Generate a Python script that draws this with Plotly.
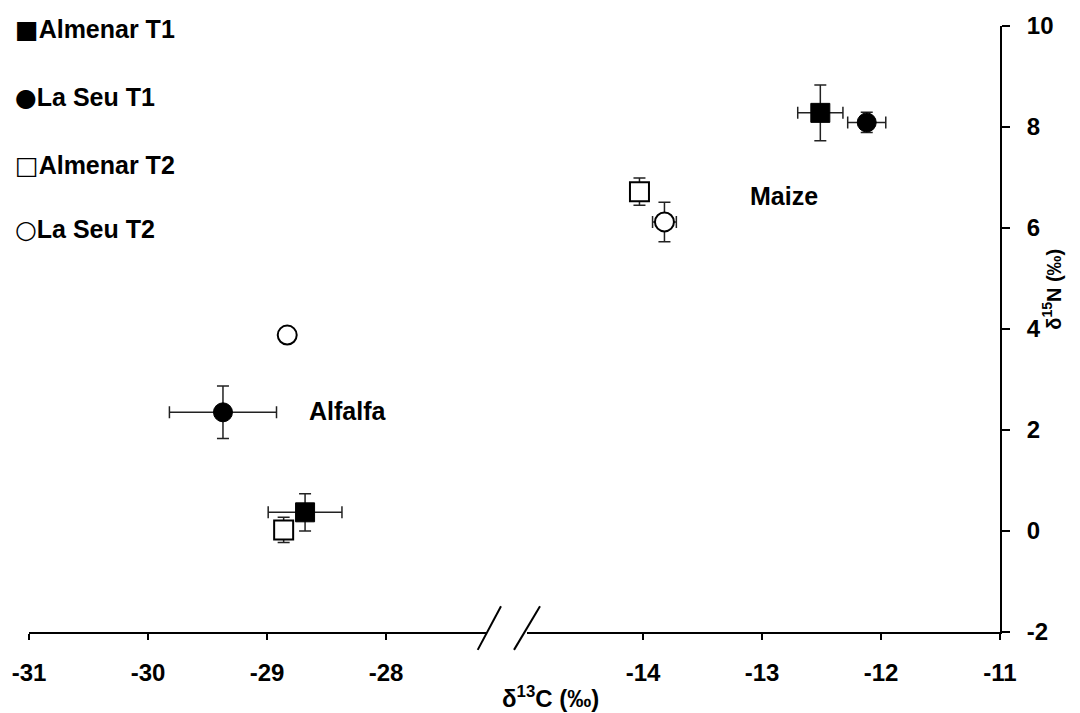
import plotly.graph_objects as go

# δ13C / δ15N of alfalfa and maize at two sites, two treatments
series = ["Almenar T1", "La Seu T1", "Almenar T2", "La Seu T2"]

# alfalfa (C3) values -> left segment of the broken x axis
alfalfa_c = [-28.68, -29.37, -28.86, -28.83]
alfalfa_n = [0.37, 2.35, 0.02, 3.88]
alfalfa_c_err = [0.31, 0.45, 0.0, 0.0]
alfalfa_n_err = [0.37, 0.52, 0.25, 0.0]

# maize (C4) values -> right segment of the broken x axis
maize_c = [-12.51, -12.12, -14.03, -13.82]
maize_n = [8.28, 8.09, 6.72, 6.12]
maize_c_err = [0.19, 0.16, 0.0, 0.10]
maize_n_err = [0.55, 0.20, 0.27, 0.39]

left_ticks = [-31, -30, -29, -28]
right_ticks = [-14, -13, -12, -11]
y_ticks = [-2, 0, 2, 4, 6, 8, 10]

symbols = ["square", "circle", "square", "circle"]
fills = ["black", "black", "white", "white"]
legend_glyphs = ["■", "●", "□", "○"]

FONT = "Liberation Sans, Arial, sans-serif"
err_style = dict(type="data", symmetric=True, color="#222222", thickness=1.5, width=6)


def bold_labels(vals):
    return ["<b>%d</b>" % v for v in vals]


fig = go.Figure()
for i, name in enumerate(series):
    marker = dict(symbol=symbols[i], size=19, color=fills[i],
                  line=dict(color="black", width=2 if fills[i] == "white" else 1))
    fig.add_trace(go.Scatter(
        x=[alfalfa_c[i]], y=[alfalfa_n[i]], mode="markers", name=name,
        marker=marker, showlegend=False, xaxis="x", yaxis="y",
        error_x=dict(array=[alfalfa_c_err[i]], visible=alfalfa_c_err[i] > 0, **err_style),
        error_y=dict(array=[alfalfa_n_err[i]], visible=alfalfa_n_err[i] > 0, **err_style),
    ))
    fig.add_trace(go.Scatter(
        x=[maize_c[i]], y=[maize_n[i]], mode="markers", name=name,
        marker=marker, showlegend=False, xaxis="x2", yaxis="y",
        error_x=dict(array=[maize_c_err[i]], visible=maize_c_err[i] > 0, **err_style),
        error_y=dict(array=[maize_n_err[i]], visible=maize_n_err[i] > 0, **err_style),
    ))

axis_common = dict(showline=True, linecolor="black", linewidth=2, ticks="outside",
                   tickcolor="black", tickwidth=2, showgrid=False, zeroline=False,
                   tickfont=dict(family=FONT, size=24, color="black"))

fig.update_layout(
    width=1080, height=713,
    margin=dict(l=29, r=80, t=22, b=81),
    paper_bgcolor="white", plot_bgcolor="white",
    showlegend=False,
    xaxis=dict(domain=[0, 0.4717], range=[-31, -27.151], tickvals=left_ticks,
               ticktext=bold_labels(left_ticks),
               anchor="y", ticklen=6, ticklabelstandoff=12, **axis_common),
    xaxis2=dict(domain=[0.5129, 1], range=[-14.975, -11], tickvals=right_ticks,
                ticktext=bold_labels(right_ticks),
                anchor="y", ticklen=6, ticklabelstandoff=12, **axis_common),
    yaxis=dict(range=[-2, 10], tickvals=y_ticks, ticktext=bold_labels(y_ticks),
               anchor="x2", side="right",
               ticklen=8, ticklabelstandoff=12, **axis_common),
)

# group labels
fig.add_annotation(x=-28.32, y=2.38, xref="x", yref="y", text="<b>Alfalfa</b>", showarrow=False,
                   font=dict(family=FONT, size=25, color="black"))
fig.add_annotation(x=-12.815, y=6.64, xref="x2", yref="y", text="<b>Maize</b>", showarrow=False,
                   font=dict(family=FONT, size=25, color="black"))

# axis titles
fig.add_annotation(x=(550 - 29) / 971, y=(632 - 697) / 610, xref="paper", yref="paper",
                   yanchor="middle",
                   text="<b>δ<sup>13</sup>C (‰)</b>", showarrow=False,
                   font=dict(family=FONT, size=24, color="black"))
fig.add_annotation(x=(1066 - 29) / 971, y=(632 - 287) / 610, xref="paper", yref="paper",
                   text="<b>δ<sup>15</sup>N (‰)</b>", showarrow=False, textangle=-90,
                   font=dict(family=FONT, size=20, color="black"))

# symbol key in the upper left corner
key_rows = [26, 94, 162, 227]
for glyph, name, py in zip(legend_glyphs, series, key_rows):
    fig.add_annotation(
        x=(13 - 29) / 971, y=(632 - py) / 610, xref="paper", yref="paper",
        xanchor="left", yanchor="middle", showarrow=False,
        text='<span style="font-family:DejaVu Sans;font-size:25px">%s</span><b>%s</b>' % (glyph, name),
        font=dict(family=FONT, size=25, color="black"))

# axis break marks
for x0, x1 in [(477.7, 501.0), (514.0, 540.0)]:
    fig.add_shape(type="line", xref="paper", yref="paper",
                  x0=(x0 - 29) / 971, x1=(x1 - 29) / 971,
                  y0=(632 - 650) / 610, y1=(632 - 606) / 610,
                  line=dict(color="black", width=2))

fig.write_html("out.html")
